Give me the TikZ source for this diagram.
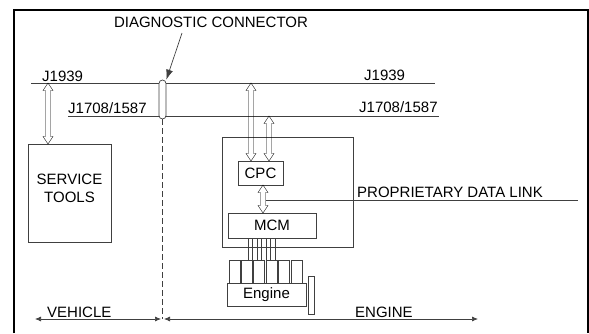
\documentclass[tikz,border=0pt]{standalone}
\usepackage{fontspec}
\setmainfont{Liberation Sans}
\usetikzlibrary{calc}
\usetikzlibrary{arrows.meta}

\tikzset{
  box/.style={draw=black!75, line width=.7pt, inner sep=0pt},
  wire/.style={draw=black!75, line width=.7pt},
  lbl/.style={inner sep=0pt, font=\fontsize{15}{18}\selectfont},
  dlink/.style={draw=black!80, fill=white, line width=.7pt,
    to path={let \p1=(\tikztostart), \p2=(\tikztotarget) in
      (\x1,\y1) -- (\x1+5pt,\y1-7.5pt) -- (\x1+2.5pt,\y1-7.5pt) -- (\x1+2.5pt,\y2+7.5pt)
      -- (\x1+5pt,\y2+7.5pt) -- (\x1,\y2) -- (\x1-5pt,\y2+7.5pt) -- (\x1-2.5pt,\y2+7.5pt)
      -- (\x1-2.5pt,\y1-7.5pt) -- (\x1-5pt,\y1-7.5pt) -- cycle}}
}

\begin{document}
\begin{tikzpicture}[x=1pt, y=-1pt]
\useasboundingbox (0,0) rectangle (589,333);
\draw[line width=2pt] (14,333) -- (14,9.5) -- (587.5,9.5) -- (587.5,333);

% data links
\coordinate (canw) at (31,83);   \coordinate (cane) at (435,83);
\coordinate (j17w) at (68,116);  \coordinate (j17e) at (439,116);
\draw[wire] (canw) -- (cane);
\draw[wire] (j17w) -- (j17e);
\node[lbl, anchor=base west] (cantxtw) at (42,81) {J1939};
\node[lbl, anchor=base west] (cantxte) at (364,80) {J1939};
\node[lbl, anchor=base west] (j17txtw) at (68,113) {J1708/1587};
\node[lbl, anchor=base west] (j17txte) at (359,112) {J1708/1587};

% diagnostic connector
\node[box, rounded corners=3.5pt, minimum width=7, minimum height=39, fill=white] (diag) at (162.5,99.5) {};
\node[lbl, anchor=base] (diagtxt) at (211,27) {DIAGNOSTIC CONNECTOR};
\coordinate (diagtail) at (182,33);
\draw[wire, -{Latex[length=10pt, width=7pt]}] (diagtail) -- (diag.north east);
\coordinate (divide) at (162.5,319);
\draw[wire, dash pattern=on 6pt off 3pt] (diag.south) -- (divide);

% service tools
\node[box, minimum width=83, minimum height=98, anchor=north] (svc) at (69.5,144) {};
\node[lbl, align=center] (svctxt) at (69.5,188) {SERVICE\\TOOLS};
\coordinate (svcbus) at (48,83);
\coordinate (svctop) at (48,144);
\draw (svcbus) to[dlink] (svctop);

% engine electronics
\node[box, minimum width=131, minimum height=110, anchor=north west] (ecu) at (222,137) {};
\node[box, lbl, minimum width=45, minimum height=24] (cpc) at (260.5,173) {CPC};
\node[box, lbl, minimum width=88, minimum height=25] (mcm) at (272,225.5) {MCM};
\coordinate (cpccan) at (251,83);  \coordinate (cpctopa) at (251,161);
\coordinate (cpcj17) at (269,116); \coordinate (cpctopb) at (269,161);
\draw (cpccan) to[dlink] (cpctopa);
\draw (cpcj17) to[dlink] (cpctopb);
\coordinate (cpcbot) at (263,185);
\coordinate (mcmtop) at (263,213);
\draw (cpcbot) to[dlink] (mcmtop);
\coordinate (pdlw) at (265.5,200); \coordinate (pdle) at (578,200);
\draw[wire] (pdlw) -- (pdle);
\node[lbl, anchor=base west] (pdltxt) at (357,197) {PROPRIETARY DATA LINK};

% engine
\foreach \x in {248,252.5,257,261.5,266,270.5,275} {
 \draw[wire, line width=.5pt] (\x,238) -- (\x,260);
}
\foreach \i in {0,...,5} {
 \draw[box] ({229+\i*12.4},260) rectangle ({229+\i*12.4+11},283);
}
\node[box, lbl, minimum width=79, minimum height=23] (eng) at (266.5,294.5) {Engine};
\node[box, minimum width=6, minimum height=38] (flywheel) at (311,295) {};

% vehicle / engine split
\coordinate (vehw) at (35,319); \coordinate (vehe) at (161,319);
\coordinate (engw) at (164,319); \coordinate (enge) at (478,319);
\draw[wire, {Latex[length=6pt, width=5pt]}-{Latex[length=6pt, width=5pt]}] (vehw) -- (vehe);
\draw[wire, {Latex[length=6pt, width=5pt]}-{Latex[length=6pt, width=5pt]}] (engw) -- (enge);
\node[lbl, anchor=base west] (vehtxt) at (47,317) {VEHICLE};
\node[lbl, anchor=base west] (engtxt) at (355,317) {ENGINE};
\end{tikzpicture}
\end{document}
